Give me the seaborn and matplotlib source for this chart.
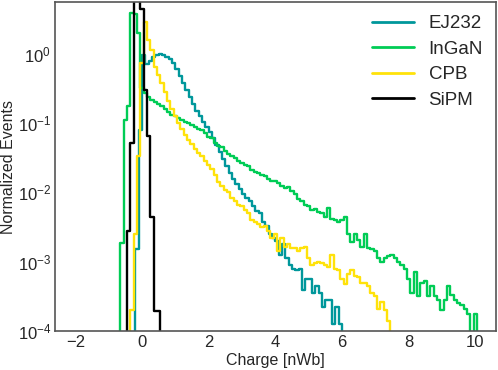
import numpy as np
import pandas as pd
import matplotlib
matplotlib.use("Agg")
import matplotlib.pyplot as plt
import seaborn as sns

# bin width of the charge histograms (nWb)
bin_width = 0.1

# log10(normalized events) per bin; None = empty bin
ej232_start = -0.2
ej232_log = [-2.82, -1.1, -0.02, -0.15, -0.1, -0.05, -0.02, -0.01, -0.02, -0.05,
             -0.08, -0.14, -0.22, -0.32, -0.42, -0.52, -0.62, -0.72, -0.82, -0.9,
             -0.98, -1.05, -1.13, -1.22, -1.32, -1.42, -1.52, -1.62, -1.72, -1.8,
             -1.88, -1.95, -2.02, -2.08, -2.13, -2.2, -2.27, -2.3, -2.42, -2.48,
             -2.6, -2.65, -2.7, -2.9, -2.75, -2.95, -3.05, -3.1, -3.12, -3.1,
             -3.4, -3.25, -3.25, -3.45, -3.35, -3.45, -3.65, -3.55, -3.55, -3.9,
             -3.65, -3.9]

ingan_start = -0.65
ingan_log = [-2.73, -0.95, -0.76, 0.59, 0.57, 0.3, -0.5, -0.56, -0.62, -0.66,
             -0.7, -0.72, -0.76, -0.8, -0.84, -0.88, -0.9, -0.92, -0.95, -0.98,
             -1.0, -1.03, -1.05, -1.08, -1.1, -1.14, -1.2, -1.22, -1.28, -1.33,
             -1.35, -1.4, -1.45, -1.47, -1.5, -1.55, -1.58, -1.6, -1.62, -1.68,
             -1.7, -1.72, -1.75, -1.76, -1.8, -1.83, -1.84, -1.86, -1.9, -1.93,
             -1.92, -1.98, -2.02, -2.1, -2.12, -2.18, -2.2, -2.25, -2.24, -2.28,
             -2.3, -2.35, -2.22, -2.38, -2.4, -2.42, -2.4, -2.35, -2.6, -2.72,
             -2.6, -2.68, -2.78, -2.6, -2.8, -2.82, -2.85, -2.95, -3.0, -2.95,
             -2.92, -2.9, -2.95, -3.0, -3.05, -3.1, -3.25, -3.45, -3.15, -3.5,
             -3.3, -3.28, -3.5, -3.35, -3.5, -3.55, -3.7, -3.55, -3.35, -3.48,
             -3.55, -3.6, -3.62, -3.68, -3.75, None, -3.75]

cpb_start = -0.35
cpb_log = [-3.7, -2.6, -1.48, -0.13, 0.46, 0.2, 0.06, -0.19, -0.3, -0.42,
           -0.55, -0.68, -0.8, -0.9, -1.0, -1.08, -1.17, -1.24, -1.3, -1.37,
           -1.43, -1.48, -1.54, -1.6, -1.66, -1.75, -1.85, -1.9, -1.97, -2.0,
           -2.08, -2.13, -2.18, -2.2, -2.25, -2.3, -2.4, -2.43, -2.45, -2.5,
           -2.48, -2.55, -2.65, -2.6, -2.85, -2.65, -2.78, -2.75, -2.8, -2.8,
           -2.85, -2.8, -2.78, -2.95, -3.05, -3.02, -3.0, -3.02, -3.05, -3.08,
           -2.9, -3.1, -3.12, -3.25, -3.32, -3.18, -3.12, -3.2, -3.22, -3.3,
           -3.3, -3.35, -3.45, -3.5, -3.68, -3.58, -3.7, -3.85]

sipm_start = -0.45
sipm_log = [-2.56, -1.28, 0.85, 0.8, 0.64, -0.52, -1.19, -2.36, -3.71, -3.71]

labels = ["EJ232", "InGaN", "CPB", "SiPM"]
colors = ["#00979b", "#00cc55", "#ffe20a", "#000000"]


def step_outline(start, logs, floor=1e-6):
    # outline of a step histogram that drops to the floor at both ends
    heights = np.array([floor if v is None else 10.0 ** v for v in logs])
    edges = start + bin_width * np.arange(len(heights) + 1)
    xs = [edges[0]]
    ys = [floor]
    for i, h in enumerate(heights):
        xs += [edges[i], edges[i + 1]]
        ys += [h, h]
    xs.append(edges[-1])
    ys.append(floor)
    return xs, ys


frames = []
for name, start, logs in zip(labels,
                             [ej232_start, ingan_start, cpb_start, sipm_start],
                             [ej232_log, ingan_log, cpb_log, sipm_log]):
    xs, ys = step_outline(start, logs)
    frames.append(pd.DataFrame({"charge": xs, "events": ys, "detector": name}))
df = pd.concat(frames, ignore_index=True)

sns.set_style("white")
plt.rcParams["font.family"] = ["Liberation Sans", "DejaVu Sans"]

fig, ax = plt.subplots(figsize=(4.98, 3.70), dpi=100)
fig.subplots_adjust(left=0.111, right=0.996, top=0.995, bottom=0.105)

sns.lineplot(data=df, x="charge", y="events", hue="detector", hue_order=labels,
             palette=colors, estimator=None, sort=False, units="detector",
             linewidth=1.7, ax=ax)

ax.set_yscale("log")
ax.set_xlim(-2.6, 10.62)
ax.set_ylim(1e-4, 5.6)
ax.set_xticks([-2, 0, 2, 4, 6, 8, 10])
ax.minorticks_off()
ax.set_xlabel("Charge [nWb]", fontsize=11.5, labelpad=2)
ax.set_ylabel("Normalized Events", fontsize=11.5, labelpad=1)
ax.tick_params(labelsize=12, length=0, pad=3)
for s in ax.spines.values():
    s.set_color("#555555")
    s.set_linewidth(1.2)

leg = ax.legend(loc="upper right", frameon=False, fontsize=13.5,
                handlelength=2.2, labelspacing=0.45, borderaxespad=0.3)
for line in leg.get_lines():
    line.set_linewidth(2.0)

fig.savefig("out.png", dpi=100)
